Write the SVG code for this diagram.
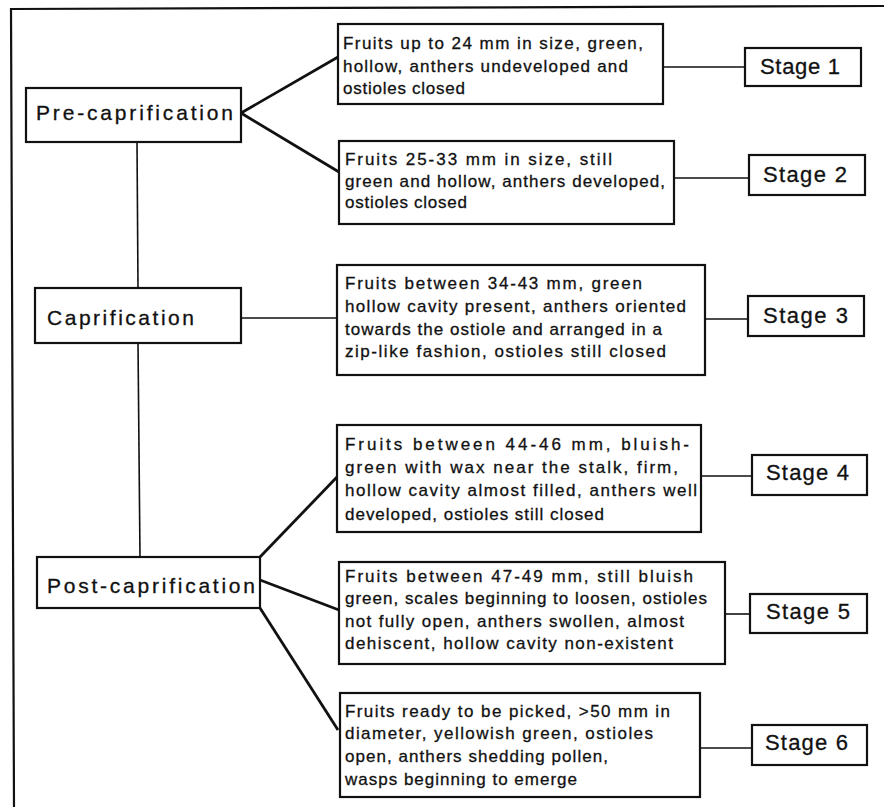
<svg xmlns="http://www.w3.org/2000/svg" width="884" height="807" viewBox="0 0 884 807">
<style>
text{font-family:"Liberation Sans",Arial,Helvetica,sans-serif;fill:#111;stroke:#111;stroke-width:0.3}
.phase{font-size:21px}
.desc{font-size:17px}
.stage{font-size:22px}
.box{fill:#fff;stroke:#111;stroke-width:2.2}
.conn line,.conn path{stroke:#111;fill:none}
.thick{stroke-width:2.8}
.thin{stroke-width:1.6}
</style>
<rect width="884" height="807" fill="#fff"/>
<path d="M884 6 L11 9 L14 807" fill="none" stroke="#111" stroke-width="2.2"/>
<g class="conn">
<line class="thick" x1="241" y1="113" x2="338" y2="57"/>
<line class="thick" x1="241" y1="113" x2="339" y2="172"/>
<line class="thin" x1="137" y1="142" x2="138" y2="288"/>
<line class="thin" x1="138" y1="343" x2="140" y2="557"/>
<line class="thin" x1="241" y1="318" x2="337" y2="318"/>
<line class="thick" x1="260" y1="557" x2="337" y2="477"/>
<line class="thick" x1="260" y1="580" x2="339" y2="610"/>
<line class="thick" x1="260" y1="608" x2="338" y2="730"/>
<line class="thin" x1="663" y1="67" x2="745" y2="67"/>
<line class="thin" x1="674" y1="178" x2="749" y2="178"/>
<line class="thin" x1="705" y1="319" x2="748" y2="319"/>
<line class="thin" x1="701" y1="476" x2="752" y2="476"/>
<line class="thin" x1="725" y1="614" x2="750" y2="614"/>
<line class="thin" x1="700" y1="748" x2="752" y2="748"/>
</g>
<g id="pre">
<rect class="box" x="26" y="88" width="215" height="54"/>
<text class="phase" x="36" y="120" textLength="197" lengthAdjust="spacing">Pre-caprification</text>
</g>
<g id="cap">
<rect class="box" x="35" y="288" width="206" height="55"/>
<text class="phase" x="47" y="325" textLength="147" lengthAdjust="spacing">Caprification</text>
</g>
<g id="post">
<rect class="box" x="37" y="557" width="223" height="51"/>
<text class="phase" x="47" y="593" textLength="208" lengthAdjust="spacing">Post-caprification</text>
</g>
<g id="d1">
<rect class="box" x="338" y="24" width="325" height="80"/>
<text class="desc" x="343" y="49" textLength="300" lengthAdjust="spacing">Fruits up to 24 mm in size, green,</text>
<text class="desc" x="343" y="72" textLength="285" lengthAdjust="spacing">hollow, anthers undeveloped and</text>
<text class="desc" x="343" y="94" textLength="122" lengthAdjust="spacing">ostioles closed</text>
</g>
<g id="d2">
<rect class="box" x="339" y="141" width="335" height="83"/>
<text class="desc" x="345" y="165" textLength="267" lengthAdjust="spacing">Fruits 25-33 mm in size, still</text>
<text class="desc" x="345" y="187" textLength="320" lengthAdjust="spacing">green and hollow, anthers developed,</text>
<text class="desc" x="345" y="208" textLength="122" lengthAdjust="spacing">ostioles closed</text>
</g>
<g id="d3">
<rect class="box" x="337" y="265" width="368" height="110"/>
<text class="desc" x="345" y="289" textLength="297" lengthAdjust="spacing">Fruits between 34-43 mm, green</text>
<text class="desc" x="345" y="312" textLength="341" lengthAdjust="spacing">hollow cavity present, anthers oriented</text>
<text class="desc" x="345" y="335" textLength="317" lengthAdjust="spacing">towards the ostiole and arranged in a</text>
<text class="desc" x="345" y="357" textLength="321" lengthAdjust="spacing">zip-like fashion, ostioles still closed</text>
</g>
<g id="d4">
<rect class="box" x="337" y="425" width="364" height="107"/>
<text class="desc" x="345" y="450" textLength="344" lengthAdjust="spacing">Fruits between 44-46 mm, bluish-</text>
<text class="desc" x="345" y="473" textLength="333" lengthAdjust="spacing">green with wax near the stalk, firm,</text>
<text class="desc" x="345" y="496" textLength="352" lengthAdjust="spacing">hollow cavity almost filled, anthers well</text>
<text class="desc" x="345" y="520" textLength="259" lengthAdjust="spacing">developed, ostioles still closed</text>
</g>
<g id="d5">
<rect class="box" x="339" y="562" width="386" height="102"/>
<text class="desc" x="345" y="582" textLength="348" lengthAdjust="spacing">Fruits between 47-49 mm, still bluish</text>
<text class="desc" x="345" y="604" textLength="362" lengthAdjust="spacing">green, scales beginning to loosen, ostioles</text>
<text class="desc" x="345" y="627" textLength="339" lengthAdjust="spacing">not fully open, anthers swollen, almost</text>
<text class="desc" x="345" y="649" textLength="328" lengthAdjust="spacing">dehiscent, hollow cavity non-existent</text>
</g>
<g id="d6">
<rect class="box" x="340" y="693" width="360" height="104"/>
<text class="desc" x="345" y="717" textLength="325" lengthAdjust="spacing">Fruits ready to be picked, &gt;50 mm in</text>
<text class="desc" x="345" y="739" textLength="308" lengthAdjust="spacing">diameter, yellowish green, ostioles</text>
<text class="desc" x="345" y="762" textLength="263" lengthAdjust="spacing">open, anthers shedding pollen,</text>
<text class="desc" x="345" y="785" textLength="232" lengthAdjust="spacing">wasps beginning to emerge</text>
</g>
<g id="s1">
<rect class="box" x="745" y="48" width="116" height="38"/>
<text class="stage" x="760" y="74" textLength="80" lengthAdjust="spacing">Stage 1</text>
</g>
<g id="s2">
<rect class="box" x="749" y="155" width="116" height="40"/>
<text class="stage" x="763" y="182" textLength="84" lengthAdjust="spacing">Stage 2</text>
</g>
<g id="s3">
<rect class="box" x="748" y="296" width="116" height="40"/>
<text class="stage" x="763" y="323" textLength="85" lengthAdjust="spacing">Stage 3</text>
</g>
<g id="s4">
<rect class="box" x="752" y="455" width="115" height="40"/>
<text class="stage" x="766" y="480" textLength="83" lengthAdjust="spacing">Stage 4</text>
</g>
<g id="s5">
<rect class="box" x="750" y="594" width="117" height="39"/>
<text class="stage" x="766" y="619" textLength="84" lengthAdjust="spacing">Stage 5</text>
</g>
<g id="s6">
<rect class="box" x="752" y="725" width="115" height="40"/>
<text class="stage" x="765" y="750" textLength="83" lengthAdjust="spacing">Stage 6</text>
</g>
</svg>
